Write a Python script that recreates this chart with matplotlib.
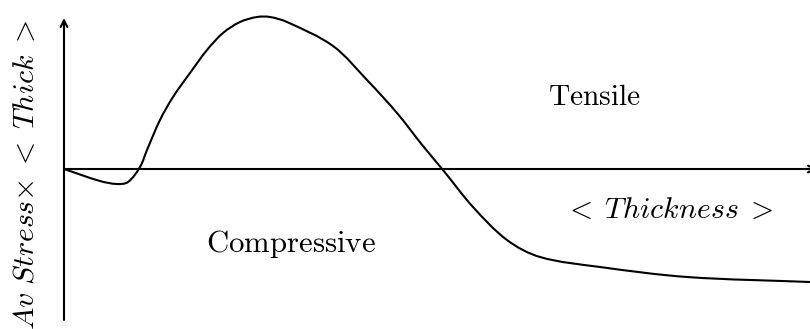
import matplotlib
matplotlib.use('Agg')
import matplotlib.pyplot as plt
from matplotlib.path import Path
from matplotlib.patches import PathPatch
import numpy as np

plt.rcParams['mathtext.fontset'] = 'cm'

# Average stress x thickness curve (arbitrary units)
thickness = [0.00, 0.36, 0.53, 0.64, 0.76, 0.83, 0.96, 1.09, 1.26, 1.43,
             1.59, 1.76, 1.93, 2.06, 2.23, 2.69, 3.03, 3.33, 3.59, 3.79,
             4.09, 4.43, 4.76, 5.36, 6.23, 7.46]
stress = [0.00, -0.12, -0.15, -0.13, 0.02, 0.19, 0.49, 0.72, 0.96, 1.19,
          1.36, 1.47, 1.52, 1.52, 1.47, 1.23, 0.89, 0.56, 0.23, -0.01,
          -0.38, -0.71, -0.88, -0.98, -1.08, -1.13]


def smooth_path(x, y):
    '''Catmull-Rom curve through the points, as cubic Bezier segments.'''
    pts = np.column_stack([x, y])
    verts = [pts[0]]
    codes = [Path.MOVETO]
    n = len(pts)
    for i in range(n - 1):
        p0 = pts[max(i - 1, 0)]
        p1 = pts[i]
        p2 = pts[i + 1]
        p3 = pts[min(i + 2, n - 1)]
        # scale tangents by segment length so uneven spacing stays smooth
        d = np.hypot(*(p2 - p1))
        t1 = (p2 - p0) / np.hypot(*(p2 - p0))
        t2 = (p3 - p1) / np.hypot(*(p3 - p1))
        c1 = p1 + t1 * d / 3.0
        c2 = p2 - t2 * d / 3.0
        verts += [c1, c2, p2]
        codes += [Path.CURVE4] * 3
    return Path(verts, codes)


fig = plt.figure(figsize=(8.10, 3.29), dpi=100)
ax = fig.add_axes([0, 0, 1, 1])
ax.set_xlim(-0.64, 7.46)
ax.set_ylim(-1.60, 1.69)
ax.axis('off')

# axes drawn as arrows
arrow = dict(arrowstyle='->', lw=1.5, color='black', shrinkA=0, shrinkB=0,
             mutation_scale=12)
ax.annotate('', xy=(0, 1.51), xytext=(0, -1.51), arrowprops=arrow,
            annotation_clip=False)
ax.annotate('', xy=(7.53, 0), xytext=(0, 0), arrowprops=arrow,
            annotation_clip=False)

ax.add_patch(PathPatch(smooth_path(thickness, stress), fill=False,
                       edgecolor='black', lw=1.5))

ax.text(5.30, 0.64, r'$\mathrm{Tensile}$', fontsize=21.2, ha='center',
        va='baseline')
ax.text(2.27, -0.83, r'$\mathrm{Compressive}$', fontsize=22.2, ha='center',
        va='baseline')
ax.text(6.05, -0.49, r'${<}\;Thickness\;{>}$', fontsize=21.5, ha='center',
        va='baseline')
ax.text(-0.39, -0.06, r'$Av\ Stress{\times}\;{<}\;Thick\;{>}$', fontsize=21.5,
        rotation=90, ha='center', va='center')

fig.savefig('out.png', dpi=100)
